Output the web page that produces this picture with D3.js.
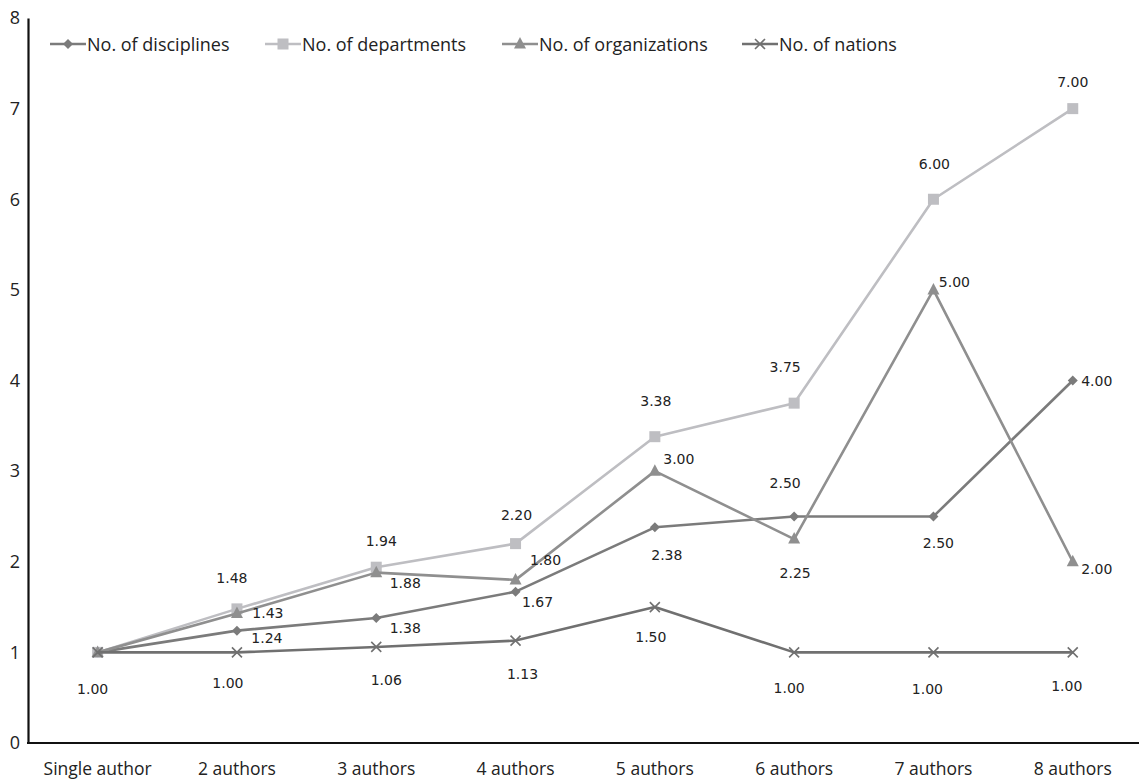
<!DOCTYPE html>
<html>
<head>
<meta charset="utf-8">
<script src="https://cdn.jsdelivr.net/npm/d3@7"></script>
<style>
  html, body { margin: 0; padding: 0; background: #fff; }
  svg { display: block; }
</style>
</head>
<body>
<svg id="chart" width="1139" height="780"></svg>
<script>
// Author-count groups on the x axis
const categories = ["Single author", "2 authors", "3 authors", "4 authors",
                    "5 authors", "6 authors", "7 authors", "8 authors"];

// Average counts per group
const disciplines   = [1.00, 1.24, 1.38, 1.67, 2.38, 2.50, 2.50, 4.00];
const departments   = [1.00, 1.48, 1.94, 2.20, 3.38, 3.75, 6.00, 7.00];
const organizations = [1.00, 1.43, 1.88, 1.80, 3.00, 2.25, 5.00, 2.00];
const nations       = [1.00, 1.00, 1.06, 1.13, 1.50, 1.00, 1.00, 1.00];

const seriesNames = ["No. of disciplines", "No. of departments",
                     "No. of organizations", "No. of nations"];
const yTicks = [0, 1, 2, 3, 4, 5, 6, 7, 8];

// Series table built from the arrays above
const series = [
  { name: seriesNames[0], values: disciplines,   color: "#7b7b7b", marker: "diamond" },
  { name: seriesNames[1], values: departments,   color: "#bebec2", marker: "square" },
  { name: seriesNames[2], values: organizations, color: "#8f8f8f", marker: "triangle" },
  { name: seriesNames[3], values: nations,       color: "#707070", marker: "cross" }
];

// Where each value label sits relative to its point (null = no label)
const labelOffsets = [
  [null, [30, 7], [29, 10], [22, 10], [12, 28], [-9, -33], [5, 27], [24, 0]],
  [null, [-5, -31], [5, -26], [1, -29], [1, -36], [-9, -36], [1, -35], [0, -27]],
  [null, [31, 0], [29, 10], [30, -20], [24, -12], [1, 34], [21, -8], [24, 7]],
  [[-5, 37], [-9, 31], [10, 33], [7, 33], [-4, 30], [-5, 36], [-6, 37], [-6, 34]]
];

const svg = d3.select("#chart");

const x = d3.scaleBand().domain(categories).range([28, 1142.4]);
const y = d3.scaleLinear().domain([0, 8]).range([743, 18]);
const cx = c => x(c) + x.bandwidth() / 2;

const axisFont = "'Open Sans', sans-serif";
const labelFont = "'DejaVu Sans', sans-serif";

// Y axis
const yAxis = svg.append("g")
  .attr("transform", `translate(${x.range()[0]},0)`)
  .call(d3.axisLeft(y).tickValues(yTicks).tickSize(0).tickPadding(8).tickFormat(d3.format("d")));
yAxis.select(".domain").attr("stroke", "#111").attr("stroke-width", 2.2);
yAxis.selectAll("text")
  .attr("font-family", axisFont).attr("font-size", 18).attr("fill", "#222");

// X axis
const xAxis = svg.append("g")
  .attr("transform", `translate(0,${y(0)})`)
  .call(d3.axisBottom(x).tickSize(0).tickPadding(20));
xAxis.select(".domain").attr("stroke", "#111").attr("stroke-width", 2.2)
  .attr("d", `M${x.range()[0] - 1},0H1139`);
xAxis.selectAll("text")
  .attr("font-family", axisFont).attr("font-size", 17.5).attr("fill", "#222");

// Marker shapes
function drawMarker(g, type, px, py, color) {
  if (type === "diamond") {
    g.append("path")
      .attr("d", `M${px},${py - 5}L${px + 5},${py}L${px},${py + 5}L${px - 5},${py}Z`)
      .attr("fill", color);
  } else if (type === "square") {
    g.append("rect").attr("x", px - 5.5).attr("y", py - 5.5)
      .attr("width", 11).attr("height", 11).attr("fill", color);
  } else if (type === "triangle") {
    g.append("path")
      .attr("d", `M${px},${py - 7}L${px + 6},${py + 4.5}L${px - 6},${py + 4.5}Z`)
      .attr("fill", color);
  } else if (type === "cross") {
    g.append("path")
      .attr("d", `M${px - 5},${py - 5}L${px + 5},${py + 5}M${px + 5},${py - 5}L${px - 5},${py + 5}`)
      .attr("stroke", color).attr("stroke-width", 1.6).attr("fill", "none");
  }
}

const line = d3.line()
  .x((d, i) => cx(categories[i]))
  .y(d => y(d));

// Lines and markers
series.forEach(s => {
  const g = svg.append("g");
  g.append("path")
    .datum(s.values)
    .attr("d", line)
    .attr("fill", "none")
    .attr("stroke", s.color)
    .attr("stroke-width", 2.6)
    .attr("stroke-linejoin", "round");
  s.values.forEach((v, i) => drawMarker(g, s.marker, cx(categories[i]), y(v), s.color));
});

// Value labels
const fmt = d3.format(".2f");
series.forEach((s, si) => {
  s.values.forEach((v, i) => {
    const off = labelOffsets[si][i];
    if (!off) return;
    svg.append("text")
      .attr("x", cx(categories[i]) + off[0])
      .attr("y", y(v) + off[1])
      .attr("text-anchor", "middle")
      .attr("dominant-baseline", "central")
      .attr("font-family", labelFont)
      .attr("font-size", 14)
      .attr("fill", "#222")
      .text(fmt(v));
  });
});

// Legend
const legendX = [50, 265, 502, 742];
const legend = svg.append("g");
series.forEach((s, i) => {
  const lx = legendX[i], ly = 44;
  legend.append("line")
    .attr("x1", lx).attr("x2", lx + 36).attr("y1", ly).attr("y2", ly)
    .attr("stroke", s.color).attr("stroke-width", 2.6);
  drawMarker(legend, s.marker, lx + 18, ly, s.color);
  legend.append("text")
    .attr("x", lx + 37).attr("y", ly)
    .attr("dominant-baseline", "central")
    .attr("font-family", axisFont).attr("font-size", 18).attr("fill", "#222")
    .text(s.name);
});
</script>
</body>
</html>
